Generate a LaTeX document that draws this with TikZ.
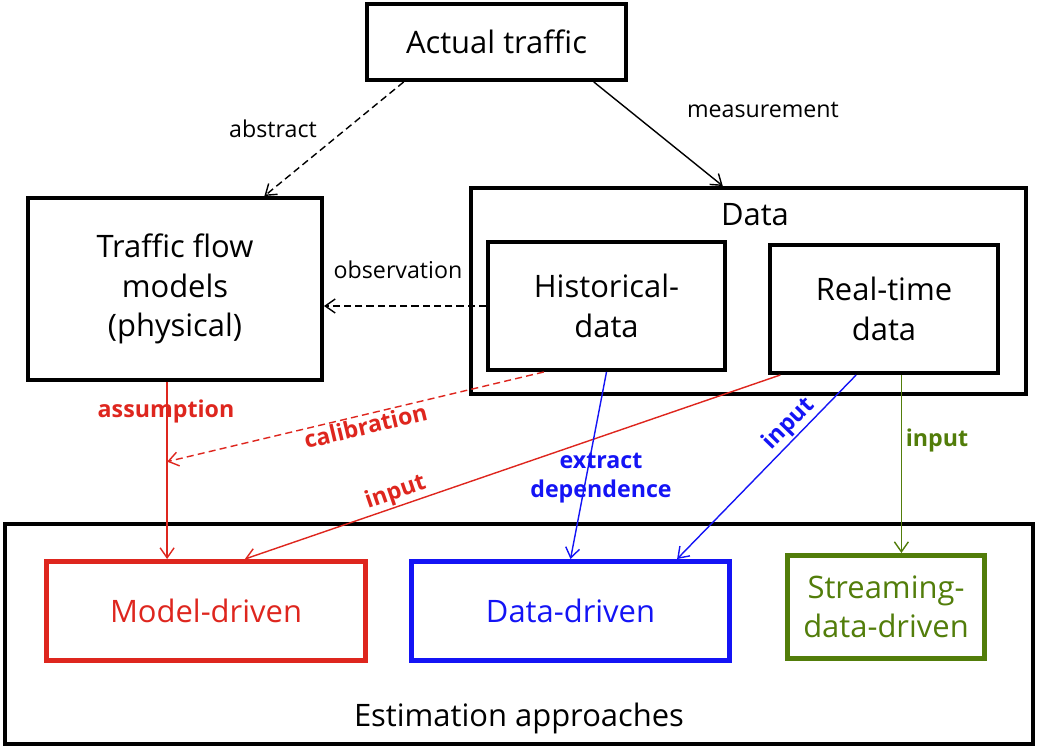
\documentclass[tikz,border=0pt]{standalone}
\usepackage{fontspec}
\setmainfont{Open Sans}
\usetikzlibrary{arrows.meta, positioning, calc}

\definecolor{mdred}{RGB}{222,38,30}
\definecolor{ddblue}{RGB}{20,20,245}
\definecolor{sdgreen}{RGB}{82,125,10}

\begin{document}
\begin{tikzpicture}[
    x=0.025cm, y=-0.025cm,
    box/.style={rectangle, draw, line width=2.8pt, align=center, inner sep=0pt, font=\fontsize{22}{28}\selectfont},
    approach/.style={box, line width=3.5pt},
    lbl/.style={font=\fontsize{16.5}{20}\selectfont, inner sep=1pt},
    blbl/.style={font=\fontsize{16.5}{21}\selectfont\bfseries, inner sep=1pt, align=center},
    arrow/.style={-{Straight Barb[length=2.5mm, width=3.5mm]}, line width=1pt},
    dasharrow/.style={arrow, dash pattern=on 5pt off 3pt}
]
\useasboundingbox (0,0) rectangle (1040,750);

% top row
\node[box, minimum width=6.475cm, minimum height=1.9cm] (actual) at (496.5,42) {Actual traffic};
\node[box, minimum width=7.35cm, minimum height=4.55cm] (tf) at (175,289) {Traffic flow\\models\\(physical)};
\node[box, minimum width=13.875cm, minimum height=5.15cm] (data) at (748.5,291) {};
\node[font=\fontsize{22}{28}\selectfont] (datatitle) at (755,215) {Data};
\node[box, minimum width=5.925cm, minimum height=3.2cm] (hist) at (606.5,306) {Historical-\\data};
\node[box, minimum width=5.7cm, minimum height=3.2cm] (rt) at (884,309) {Real-time\\data};

% bottom row
\node[box, minimum width=25.7cm, minimum height=5.5cm] (est) at (519,634) {};
\node[font=\fontsize{22}{28}\selectfont] (esttitle) at (519,718) {Estimation approaches};
\node[approach, draw=mdred, text=mdred, minimum width=7.975cm, minimum height=2.475cm] (model) at (206,611) {Model-driven};
\node[approach, draw=ddblue, text=ddblue, minimum width=7.95cm, minimum height=2.475cm] (dd) at (570.5,611) {Data-driven};
\node[approach, draw=sdgreen, text=sdgreen, minimum width=4.925cm, minimum height=2.575cm] (stream) at (886,607) {Streaming-\\data-driven};

% end points on the box edges
\coordinate (absstart) at ($(actual.south west)!0.147!(actual.south east)$);
\coordinate (absend) at ($(tf.north west)!0.8!(tf.north east)$);
\coordinate (measstart) at ($(actual.south west)!0.87!(actual.south east)$);
\coordinate (measend) at ($(data.north west)!0.454!(data.north east)$);
\coordinate (asmend) at ($(model.north west)!0.38!(model.north east)$);
\coordinate (calstart) at ($(hist.south west)!0.24!(hist.south east)$);
\coordinate (calend) at ($(tf.south -| asmend)!0.45!(asmend)$);
\coordinate (rinstart) at ($(rt.south west)!0.053!(rt.south east)$);
\coordinate (rinend) at ($(model.north west)!0.62!(model.north east)$);
\coordinate (binstart) at ($(rt.south west)!0.38!(rt.south east)$);
\coordinate (binend) at ($(dd.north west)!0.83!(dd.north east)$);
\coordinate (ginstart) at ($(rt.south west)!0.575!(rt.south east)$);

% black arrows
\draw[dasharrow] (absstart) -- (absend);
\node[lbl] (abslbl) at (273,129) {abstract};
\draw[arrow] (measstart) -- (measend);
\node[lbl] (measlbl) at (763,110) {measurement};
\draw[dasharrow] (hist.west) -- (hist.west -| tf.east);
\node[lbl] (obslbl) at (398,270) {observation};

% red arrows
\draw[arrow, mdred] (tf.south -| asmend) -- (asmend);
\node[blbl, text=mdred] (asmlbl) at (166,411) {assumption};
\draw[dasharrow, mdred] (calstart) -- node[blbl, sloped, below, pos=0.48] {calibration} (calend);
\draw[arrow, mdred] (rinstart) -- node[blbl, sloped, above, pos=0.71] {input} (rinend);

% blue arrows
\draw[arrow, ddblue] (hist.south) -- (dd.north);
\node[blbl, text=ddblue] (extlbl) at (601,478) {extract\\dependence};
\draw[arrow, ddblue] (binstart) -- node[blbl, sloped, above, pos=0.32] {input} (binend);

% green arrow
\draw[arrow, sdgreen] (ginstart) -- (ginstart |- stream.north);
\node[blbl, text=sdgreen] (ginlbl) at (937,440) {input};
\end{tikzpicture}
\end{document}
